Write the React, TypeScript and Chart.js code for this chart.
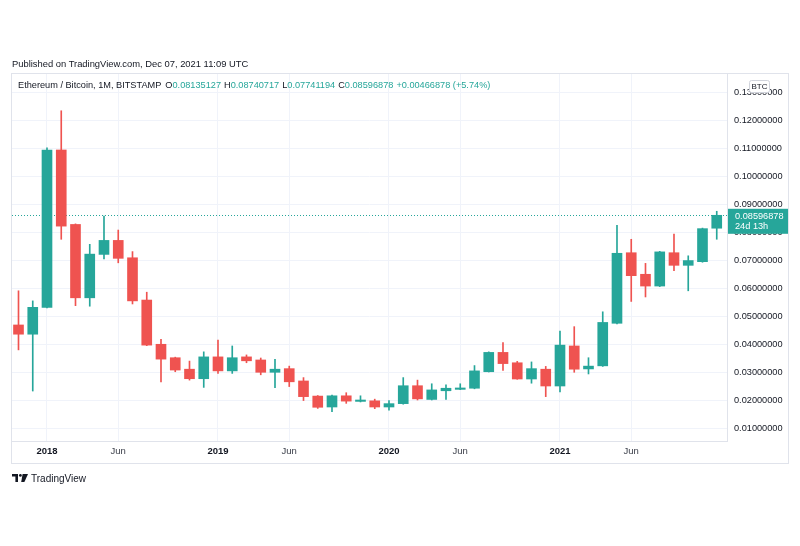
import React, { useEffect, useRef } from "react";
import { Chart, registerables } from "chart.js";

Chart.register(...registerables);

// Monthly candles, Nov 2017 .. Dec 2021 (ETH/BTC, BITSTAMP)
const months = [
  "Nov 2017", "Dec 2017",
  "Jan 2018", "Feb 2018", "Mar 2018", "Apr 2018", "May 2018", "Jun 2018",
  "Jul 2018", "Aug 2018", "Sep 2018", "Oct 2018", "Nov 2018", "Dec 2018",
  "Jan 2019", "Feb 2019", "Mar 2019", "Apr 2019", "May 2019", "Jun 2019",
  "Jul 2019", "Aug 2019", "Sep 2019", "Oct 2019", "Nov 2019", "Dec 2019",
  "Jan 2020", "Feb 2020", "Mar 2020", "Apr 2020", "May 2020", "Jun 2020",
  "Jul 2020", "Aug 2020", "Sep 2020", "Oct 2020", "Nov 2020", "Dec 2020",
  "Jan 2021", "Feb 2021", "Mar 2021", "Apr 2021", "May 2021", "Jun 2021",
  "Jul 2021", "Aug 2021", "Sep 2021", "Oct 2021", "Nov 2021", "Dec 2021",
];

const opens = [
  0.0468, 0.0435,
  0.0531, 0.1093, 0.0827, 0.0565, 0.0720, 0.0770,
  0.0708, 0.0557, 0.0399, 0.0351, 0.0310, 0.0276,
  0.0354, 0.0304, 0.0354, 0.0343, 0.0299, 0.0312,
  0.0268, 0.0214, 0.0175, 0.0215, 0.0195, 0.0197,
  0.0175, 0.0187, 0.0251, 0.0202, 0.0233, 0.0238,
  0.0242, 0.0301, 0.0370, 0.0333, 0.0275, 0.0310,
  0.0250, 0.0393, 0.0311, 0.0322, 0.0474, 0.0726,
  0.0649, 0.0607, 0.0726, 0.0681, 0.0694, 0.08135127,
];

const highs = [
  0.0590, 0.0554,
  0.1101, 0.1233, 0.0829, 0.0756, 0.0857, 0.0807,
  0.0730, 0.0585, 0.0417, 0.0353, 0.0339, 0.0372,
  0.0414, 0.0393, 0.0361, 0.0350, 0.0345, 0.0321,
  0.0280, 0.0216, 0.0218, 0.0226, 0.0215, 0.0203,
  0.0198, 0.0280, 0.0271, 0.0258, 0.0254, 0.0258,
  0.0323, 0.0372, 0.0405, 0.0338, 0.0336, 0.0320,
  0.0446, 0.0462, 0.0351, 0.0515, 0.0824, 0.0774,
  0.0688, 0.0731, 0.0793, 0.0715, 0.0814, 0.08740717,
];

const lows = [
  0.0379, 0.0232,
  0.0529, 0.0774, 0.0537, 0.0535, 0.0704, 0.0690,
  0.0543, 0.0394, 0.0265, 0.0301, 0.0271, 0.0245,
  0.0295, 0.0295, 0.0333, 0.0290, 0.0244, 0.0248,
  0.0198, 0.0170, 0.0158, 0.0188, 0.0193, 0.0169,
  0.0164, 0.0185, 0.0200, 0.0200, 0.0202, 0.0237,
  0.0240, 0.0300, 0.0306, 0.0274, 0.0260, 0.0212,
  0.0229, 0.0299, 0.0293, 0.0320, 0.0472, 0.0552,
  0.0568, 0.0605, 0.0662, 0.0590, 0.0692, 0.07741194,
];

const closes = [
  0.0435, 0.0531,
  0.1093, 0.0821, 0.0565, 0.0721, 0.0770, 0.0706,
  0.0554, 0.0396, 0.0346, 0.0307, 0.0276, 0.0354,
  0.0304, 0.0351, 0.0340, 0.0299, 0.0310, 0.0265,
  0.0212, 0.0174, 0.0215, 0.0196, 0.0200, 0.0175,
  0.0187, 0.0251, 0.0204, 0.0236, 0.0242, 0.0243,
  0.0304, 0.0370, 0.0330, 0.0275, 0.0312, 0.0250,
  0.0396, 0.0310, 0.0321, 0.0477, 0.0724, 0.0644,
  0.0607, 0.0729, 0.0681, 0.0698, 0.0812, 0.08596878,
];

// x axis labels (index into months)
const xTickIndex = [2, 7, 14, 19, 26, 31, 38, 43];
const xTickLabels = ["2018", "Jun", "2019", "Jun", "2020", "Jun", "2021", "Jun"];
const xTickBold = [true, false, true, false, true, false, true, false];

// y axis ticks
const yTicks = [0.01, 0.02, 0.03, 0.04, 0.05, 0.06, 0.07, 0.08, 0.09, 0.10, 0.11, 0.12, 0.13];

const UP = "#26a69a";
const DOWN = "#ef5350";
const TEXT = "#131722";
const FONT = '"Liberation Sans", Arial, sans-serif';

const lastClose = closes[closes.length - 1];

const overlayPlugin = {
  id: "tvOverlay",
  beforeDatasetsDraw(chart: any) {
    const { ctx, chartArea, scales } = chart;
    const y = Math.round(scales.y.getPixelForValue(lastClose)) + 0.5;
    ctx.save();
    ctx.strokeStyle = UP;
    ctx.lineWidth = 1;
    ctx.setLineDash([1, 2]);
    ctx.beginPath();
    ctx.moveTo(chartArea.left, y);
    ctx.lineTo(chartArea.right, y);
    ctx.stroke();
    ctx.restore();
  },
  afterDraw(chart: any) {
    const { ctx, chartArea, scales } = chart;
    ctx.save();
    // outer frame
    ctx.strokeStyle = "#e0e3eb";
    ctx.lineWidth = 1;
    ctx.strokeRect(11.5, 73.5, 777, 390);

    // last price label
    const y = scales.y.getPixelForValue(lastClose);
    const bx = chartArea.right + 1;
    ctx.fillStyle = UP;
    ctx.fillRect(bx, y - 6.5, 788 - bx, 25);
    ctx.fillStyle = "#ffffff";
    ctx.font = `9.2px ${FONT}`;
    ctx.textBaseline = "middle";
    ctx.textAlign = "left";
    ctx.fillText(lastClose.toFixed(8), 735, y + 0.8);
    ctx.fillText("24d 13h", 735, y + 11.5);

    // currency box
    const cx = 749, cy = 80, cw = 20, ch = 12;
    ctx.fillStyle = "#ffffff";
    ctx.strokeStyle = "#d1d4dc";
    ctx.beginPath();
    (ctx as any).roundRect ? (ctx as any).roundRect(cx + 0.5, cy + 0.5, cw, ch, 2) : ctx.rect(cx + 0.5, cy + 0.5, cw, ch);
    ctx.fill();
    ctx.stroke();
    ctx.fillStyle = TEXT;
    ctx.font = `8px ${FONT}`;
    ctx.textAlign = "center";
    ctx.fillText("BTC", cx + cw / 2 + 0.5, cy + ch / 2 + 1);
    ctx.restore();
  },
};

export default function App() {
  const canvasRef = useRef<HTMLCanvasElement | null>(null);

  useEffect(() => {
    const canvas = canvasRef.current;
    if (!canvas) return;
    const colors = closes.map((c, i) => (c >= opens[i] ? UP : DOWN));
    const wickData = months.map((_, i) => ({ x: i, y: [lows[i], highs[i]] }));
    const bodyData = months.map((_, i) => ({ x: i, y: [opens[i], closes[i]] }));

    const chart = new Chart(canvas, {
      type: "bar",
      data: {
        datasets: [
          {
            label: "body",
            data: bodyData as any,
            backgroundColor: colors,
            borderWidth: 0,
            barThickness: 10,
            minBarLength: 1,
            grouped: false,
            order: 0,
          } as any,
          {
            label: "wick",
            data: wickData as any,
            backgroundColor: colors,
            borderWidth: 0,
            barThickness: 1,
            minBarLength: 1,
            grouped: false,
            order: 1,
          } as any,
        ],
      },
      options: {
        responsive: false,
        animation: false,
        devicePixelRatio: 1,
        events: [],
        layout: { padding: { left: 12, top: 73, right: 12, bottom: 83 } },
        plugins: {
          legend: { display: false },
          tooltip: { enabled: false },
        },
        scales: {
          x: {
            type: "linear",
            min: -0.456,
            max: 49.72,
            offset: false,
            grid: { color: "#f0f3fa", drawTicks: false, offset: false },
            border: { display: true, color: "#e0e3eb" },
            afterBuildTicks: (scale: any) => {
              scale.ticks = xTickIndex.map((v) => ({ value: v }));
            },
            afterFit: (scale: any) => {
              scale.height = 22;
            },
            ticks: {
              autoSkip: false,
              maxRotation: 0,
              padding: 5,
              color: (ctx: any) => {
                const k = xTickIndex.indexOf(ctx.tick?.value);
                return k >= 0 && xTickBold[k] ? TEXT : "#3a3e49";
              },
              font: (ctx: any) => {
                const k = xTickIndex.indexOf(ctx.tick?.value);
                return {
                  family: FONT,
                  size: 9.5,
                  weight: k >= 0 && xTickBold[k] ? "bold" : "normal",
                } as any;
              },
              callback: (v: any) => {
                const k = xTickIndex.indexOf(Number(v));
                return k >= 0 ? xTickLabels[k] : "";
              },
            },
          } as any,
          y: {
            type: "linear",
            position: "right",
            min: 0.005357,
            max: 0.13679,
            grid: { color: "#f0f3fa", drawTicks: false },
            border: { display: true, color: "#e0e3eb" },
            afterBuildTicks: (scale: any) => {
              scale.ticks = yTicks.map((v) => ({ value: v }));
            },
            afterFit: (scale: any) => {
              scale.width = 61;
            },
            ticks: {
              padding: 7,
              color: TEXT,
              font: { family: FONT, size: 9.2 },
              callback: (v: any) => Number(v).toFixed(8),
            },
          } as any,
        },
      },
      plugins: [overlayPlugin as any],
    });
    return () => chart.destroy();
  }, []);

  const label = { color: TEXT };
  const val = { color: UP };

  return (
    <div
      style={{
        position: "absolute",
        left: 0,
        top: 0,
        width: 800,
        height: 546,
        background: "#ffffff",
        fontFamily: FONT,
        overflow: "hidden",
      }}
    >
      <canvas
        ref={canvasRef}
        width={800}
        height={546}
        style={{ position: "absolute", left: 0, top: 0, width: 800, height: 546 }}
      />
      <div
        style={{
          position: "absolute",
          left: 12,
          top: 57,
          fontSize: 9.4,
          lineHeight: "14px",
          color: TEXT,
          whiteSpace: "nowrap",
        }}
      >
        Published on TradingView.com, Dec 07, 2021 11:09 UTC
      </div>
      <div
        style={{
          position: "absolute",
          left: 18,
          top: 78,
          fontSize: 9.2,
          lineHeight: "14px",
          whiteSpace: "nowrap",
        }}
      >
        <span style={label}>Ethereum / Bitcoin, 1M, BITSTAMP</span>
        <span style={{ ...label, marginLeft: 4 }}>O</span>
        <span style={val}>0.08135127</span>
        <span style={{ ...label, marginLeft: 3 }}>H</span>
        <span style={val}>0.08740717</span>
        <span style={{ ...label, marginLeft: 3 }}>L</span>
        <span style={val}>0.07741194</span>
        <span style={{ ...label, marginLeft: 3 }}>C</span>
        <span style={val}>0.08596878</span>
        <span style={{ ...val, marginLeft: 3 }}>+0.00466878 (+5.74%)</span>
      </div>
      <div
        style={{
          position: "absolute",
          left: 12,
          top: 471,
          height: 14,
          display: "flex",
          alignItems: "center",
          whiteSpace: "nowrap",
        }}
      >
        <svg width="16" height="8" viewBox="0 0 16 8" style={{ display: "block" }}>
          <path d="M0 0 H6 V8 H3.4 V2.6 H0 Z" fill={TEXT} />
          <circle cx="8.4" cy="1.4" r="1.4" fill={TEXT} />
          <path d="M10.6 0 H16 L12.4 8 H9.2 Z" fill={TEXT} />
        </svg>
        <span style={{ marginLeft: 3, fontSize: 10, color: TEXT }}>TradingView</span>
      </div>
    </div>
  );
}
